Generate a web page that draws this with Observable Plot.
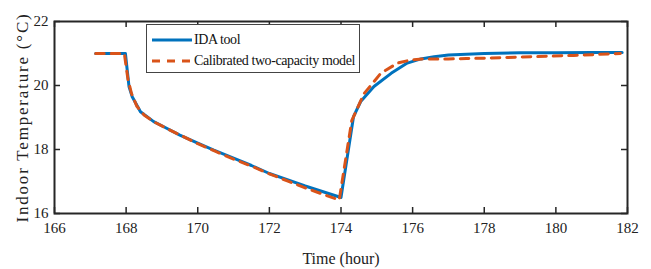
<!DOCTYPE html>
<html>
<head>
<meta charset="utf-8">
<script src="https://cdn.jsdelivr.net/npm/d3@7"></script>
<script src="https://cdn.jsdelivr.net/npm/@observablehq/plot@0.6"></script>
<style>
  html, body { margin: 0; padding: 0; background: #fff; }
  #wrap { position: relative; width: 651px; height: 269px; font-family: "Liberation Serif", "Times New Roman", serif; }
  #legend { position: absolute; left: 146px; top: 24px; width: 214px; height: 49px; border: 1px solid #444; background: #fff; box-sizing: border-box; font-size: 14px; letter-spacing: -0.4px; color: #111; }
  #legend .row { position: absolute; left: 5px; height: 16px; display: flex; align-items: center; white-space: nowrap; }
  #legend svg { display: block; margin-right: 2px; }
</style>
</head>
<body>
<div id="wrap"></div>
<script>
// ---- data ----
const seriesNames = ["IDA tool", "Calibrated two-capacity model"];
const seriesColors = ["#0072BD", "#D95319"];

const idaTime = [167.15, 167.5, 167.98, 168.08, 168.17, 168.4, 168.77, 169.05, 169.5, 170.0, 170.45, 171.0, 171.5, 172.0, 172.5, 173.0, 173.5, 174.0, 174.35, 174.55, 174.92, 175.4, 175.85, 176.23, 176.6, 177.0, 178.0, 179.0, 180.0, 181.0, 181.85];
const idaTemp = [21.0, 21.0, 21.0, 19.97, 19.65, 19.18, 18.87, 18.71, 18.45, 18.2, 17.98, 17.73, 17.5, 17.25, 17.06, 16.86, 16.68, 16.5, 19.03, 19.5, 19.97, 20.38, 20.7, 20.83, 20.9, 20.95, 21.0, 21.02, 21.02, 21.03, 21.03];

const modelTime = [167.15, 167.5, 167.95, 168.05, 168.15, 168.3, 168.5, 168.8, 169.2, 169.6, 170.0, 170.5, 171.0, 171.5, 172.0, 172.5, 173.0, 173.5, 173.95, 174.3, 174.64, 175.11, 175.58, 175.95, 176.3, 177.0, 177.5, 178.5, 179.4, 180.5, 181.6, 181.8];
const modelTemp = [21.0, 21.0, 21.0, 20.2, 19.75, 19.35, 19.08, 18.85, 18.62, 18.4, 18.18, 17.94, 17.7, 17.48, 17.24, 17.02, 16.8, 16.6, 16.42, 18.9, 19.74, 20.38, 20.7, 20.8, 20.83, 20.83, 20.84, 20.87, 20.9, 20.94, 20.99, 21.0];

const xTicks = [166, 168, 170, 172, 174, 176, 178, 180, 182];
const yTicks = [16, 18, 20, 22];
const xLabel = "Time (hour)";
const yLabel = "Indoor Temperature (\u00B0C)";

// ---- build ----
const ida = idaTime.map((t, i) => ({t, v: idaTemp[i]}));
const model = modelTime.map((t, i) => ({t, v: modelTemp[i]}));

const W = 651, H = 269;
const mL = 54, mR = 24, mT = 21, mB = 56;
const innerW = W - mL - mR, innerH = H - mT - mB;
const tk = 6;
const axisColor = "#262626";

const chart = Plot.plot({
  width: W,
  height: H,
  marginLeft: mL,
  marginRight: mR,
  marginTop: mT,
  marginBottom: mB,
  style: {fontFamily: "Liberation Serif, Times New Roman, serif", background: "#fff", color: axisColor, overflow: "visible"},
  x: {domain: [166, 182], axis: null},
  y: {domain: [16, 22], axis: null},
  marks: [
    Plot.line(ida, {x: "t", y: "v", stroke: seriesColors[0], strokeWidth: 3, strokeLinejoin: "round"}),
    Plot.line(model, {x: "t", y: "v", stroke: seriesColors[1], strokeWidth: 3, strokeDasharray: "8.5,7"}),
    // inward ticks (bottom/top)
    Plot.tickX(xTicks, {x: d => d, insetTop: innerH - tk, stroke: axisColor, strokeWidth: 1.5}),
    Plot.tickX(xTicks, {x: d => d, insetBottom: innerH - tk, stroke: axisColor, strokeWidth: 1.5}),
    // inward ticks (left/right)
    Plot.tickY(yTicks, {y: d => d, insetRight: innerW - tk, stroke: axisColor, strokeWidth: 1.5}),
    Plot.tickY(yTicks, {y: d => d, insetLeft: innerW - tk, stroke: axisColor, strokeWidth: 1.5}),
    Plot.frame({stroke: axisColor, strokeWidth: 2}),
    // tick labels
    Plot.text(xTicks, {x: d => d, frameAnchor: "bottom", dy: 15, text: d => String(d), fontSize: 15, fill: "#222", lineAnchor: "middle"}),
    Plot.text(yTicks, {y: d => d, frameAnchor: "left", dx: -6, text: d => String(d), fontSize: 15, fill: "#222", textAnchor: "end"}),
    // axis labels
    Plot.text([xLabel], {frameAnchor: "bottom", dy: 45, text: d => d, fontSize: 16, fill: "#222", lineAnchor: "middle"}),
    Plot.text([yLabel], {frameAnchor: "left", dx: -32, rotate: -90, text: d => d, fontSize: 17, fill: "#222", textAnchor: "middle", lineAnchor: "middle"})
  ]
});

// widen the letter spacing of the y-axis title as in the reference
chart.querySelectorAll("text").forEach(t => {
  if (t.textContent === yLabel) t.setAttribute("letter-spacing", "1.8");
});

const wrap = document.getElementById("wrap");
wrap.appendChild(chart);

// legend overlay
const legend = document.createElement("div");
legend.id = "legend";
seriesNames.forEach((name, i) => {
  const row = document.createElement("div");
  row.className = "row";
  row.style.top = (i === 0 ? 7 : 28) + "px";
  const dash = i === 1 ? 'stroke-dasharray="8,7"' : "";
  row.innerHTML = `<svg width="40" height="8"><line x1="0" y1="4" x2="40" y2="4" stroke="${seriesColors[i]}" stroke-width="3" ${dash}/></svg><span>${name}</span>`;
  legend.appendChild(row);
});
wrap.appendChild(legend);
</script>
</body>
</html>
